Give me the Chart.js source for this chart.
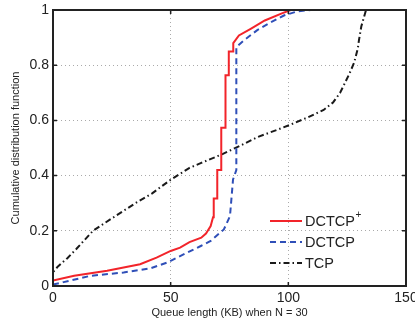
<!DOCTYPE html>
<html>
<head>
<meta charset="utf-8">
<script src="https://cdn.jsdelivr.net/npm/chart.js@4/dist/chart.umd.min.js"></script>
<style>
html,body{margin:0;padding:0;background:#fff;}
#c{display:block;}
</style>
</head>
<body>
<canvas id="c" width="415" height="329"></canvas>
<script>
// ---- data ----
const seriesNames = ["DCTCP", "DCTCP", "TCP"];
const seriesSup = ["+", "", ""];
const xTicks = [0, 50, 100, 150];
const yTicks = [0, 0.2, 0.4, 0.6, 0.8, 1];

const dctcpPlusX = [0, 9, 23, 37, 44, 50, 54, 58, 63, 65, 67, 68, 68.3, 69.8, 69.8, 71.5, 71.5, 73.3, 73.3, 74.7, 74.7, 76.6, 76.6, 79, 84, 90, 97, 101, 132];
const dctcpPlusY = [0.02, 0.037, 0.055, 0.079, 0.103, 0.127, 0.139, 0.159, 0.175, 0.19, 0.217, 0.249, 0.317, 0.317, 0.42, 0.42, 0.573, 0.573, 0.764, 0.764, 0.85, 0.85, 0.88, 0.908, 0.932, 0.962, 0.987, 1.0, 1.0];

const dctcpX = [0, 4.5, 16, 30, 37, 41.4, 48.5, 57, 62.8, 67, 72.6, 75.2, 76.5, 77.9, 77.9, 81.1, 86.8, 92.5, 98.1, 103.8, 109.5, 132];
const dctcpY = [0.005, 0.014, 0.037, 0.049, 0.058, 0.064, 0.085, 0.121, 0.145, 0.163, 0.205, 0.253, 0.386, 0.42, 0.866, 0.89, 0.927, 0.955, 0.98, 0.995, 1.0, 1.0];

const tcpX = [0, 0, 2, 6, 10, 17, 25, 35, 42, 50, 58, 63, 72, 80, 87, 95, 101, 108, 115, 119, 122, 124, 126, 128, 129.5, 130, 131, 132, 133];
const tcpY = [0.02, 0.05, 0.07, 0.1, 0.135, 0.2, 0.245, 0.3, 0.335, 0.385, 0.428, 0.446, 0.478, 0.51, 0.54, 0.565, 0.585, 0.61, 0.638, 0.665, 0.7, 0.735, 0.77, 0.81, 0.86, 0.89, 0.94, 0.97, 1.0];

const toPts = (xs, ys) => xs.map((x, i) => ({x: x, y: ys[i]}));

const FONT = "'Liberation Sans', Arial, Helvetica, sans-serif";

const legendPlugin = {
  id: 'matlabLegend',
  afterDraw(chart) {
    const ctx = chart.ctx;
    const ds = chart.data.datasets;
    const x0 = 270, x1 = 302, tx = 305;
    const ys = [221, 242, 263];
    ctx.save();
    ds.forEach((d, i) => {
      ctx.beginPath();
      ctx.strokeStyle = d.borderColor;
      ctx.lineWidth = d.borderWidth;
      ctx.setLineDash(d.borderDash || []);
      ctx.moveTo(x0, ys[i]);
      ctx.lineTo(x1, ys[i]);
      ctx.stroke();
      ctx.setLineDash([]);
      ctx.fillStyle = '#222';
      ctx.font = '14.5px ' + FONT;
      ctx.textBaseline = 'middle';
      ctx.textAlign = 'left';
      ctx.fillText(seriesNames[i], tx, ys[i] + 1);
      if (seriesSup[i]) {
        const w = ctx.measureText(seriesNames[i]).width;
        ctx.font = '10px ' + FONT;
        ctx.fillText(seriesSup[i], tx + w + 0.5, ys[i] - 6);
      }
    });
    ctx.restore();
  }
};

const framePlugin = {
  id: 'frame',
  afterDatasetsDraw(chart) {
    const a = chart.chartArea;
    const ctx = chart.ctx;
    ctx.save();
    ctx.strokeStyle = '#222';
    ctx.lineWidth = 1.5;
    ctx.setLineDash([]);
    const xs = chart.scales.x, ys = chart.scales.y;
    ctx.beginPath();
    xTicks.forEach(v => {
      const p = xs.getPixelForValue(v);
      ctx.moveTo(p, a.bottom); ctx.lineTo(p, a.bottom - 4);
      ctx.moveTo(p, a.top); ctx.lineTo(p, a.top + 4);
    });
    yTicks.forEach(v => {
      const p = ys.getPixelForValue(v);
      ctx.moveTo(a.left, p); ctx.lineTo(a.left + 4, p);
      ctx.moveTo(a.right, p); ctx.lineTo(a.right - 4, p);
    });
    ctx.stroke();
    ctx.lineWidth = 2;
    ctx.strokeRect(a.left, a.top, a.right - a.left, a.bottom - a.top);
    ctx.restore();
  }
};

new Chart(document.getElementById('c'), {
  type: 'scatter',
  data: {
    datasets: [
      {label: 'DCTCP+', data: toPts(dctcpPlusX, dctcpPlusY), showLine: true, borderColor: '#f2242a', borderWidth: 2, pointRadius: 0, fill: false},
      {label: 'DCTCP', data: toPts(dctcpX, dctcpY), showLine: true, borderColor: '#2f4fb8', borderWidth: 2, borderDash: [6, 4], pointRadius: 0, fill: false},
      {label: 'TCP', data: toPts(tcpX, tcpY), showLine: true, borderColor: '#1a1a1a', borderWidth: 2, borderDash: [6, 3, 1.5, 3], pointRadius: 0, fill: false}
    ]
  },
  options: {
    responsive: false,
    devicePixelRatio: 1,
    animation: false,
    layout: {padding: {top: 10, right: 9, left: 0, bottom: 0}},
    plugins: {legend: {display: false}, tooltip: {enabled: false}},
    scales: {
      x: {
        type: 'linear', min: 0, max: 150,
        afterBuildTicks: s => { s.ticks = xTicks.map(v => ({value: v})); },
        afterFit: s => { s.height = 43; s.paddingLeft = 0; s.paddingRight = 0; },
        ticks: {color: '#222', font: {family: FONT, size: 14}, padding: 4, maxRotation: 0},
        grid: {color: '#aaa', drawTicks: false},
        border: {display: false, dash: [1, 3]},
        title: {display: true, text: 'Queue length (KB) when N = 30', color: '#222', font: {family: FONT, size: 11}, padding: {top: 1, bottom: 9}}
      },
      y: {
        type: 'linear', min: 0, max: 1,
        afterBuildTicks: s => { s.ticks = yTicks.map(v => ({value: v})); },
        afterFit: s => { s.width = 53; s.paddingTop = 0; s.paddingBottom = 0; },
        ticks: {color: '#222', font: {family: FONT, size: 14}, padding: 4, callback: v => String(Math.round(v * 10) / 10)},
        grid: {color: '#aaa', drawTicks: false},
        border: {display: false, dash: [1, 3]},
        title: {display: true, text: 'Cumulative distribution function', color: '#222', font: {family: FONT, size: 11}, padding: {top: 9, bottom: 4}}
      }
    }
  },
  plugins: [framePlugin, legendPlugin]
});
</script>
</body>
</html>
